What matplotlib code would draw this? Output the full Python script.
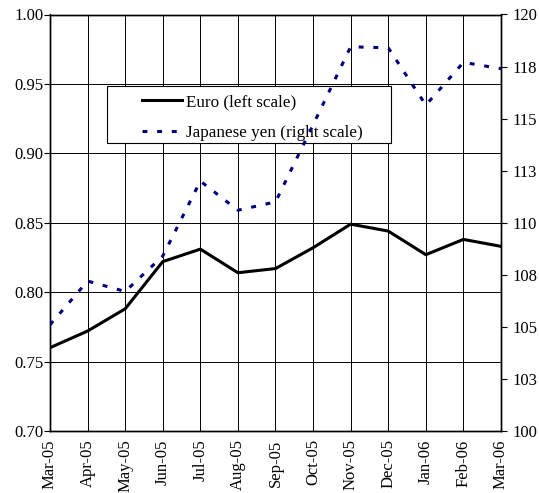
import matplotlib
matplotlib.use("Agg")
import matplotlib.pyplot as plt
import matplotlib.patches as patches
from matplotlib.ticker import FixedLocator, FixedFormatter

plt.rcParams['font.family'] = ['Liberation Serif', 'DejaVu Serif']

months = ['Mar-05', 'Apr-05', 'May-05', 'Jun-05', 'Jul-05', 'Aug-05', 'Sep-05',
          'Oct-05', 'Nov-05', 'Dec-05', 'Jan-06', 'Feb-06', 'Mar-06']
euro = [0.760, 0.772, 0.788, 0.822, 0.831, 0.814, 0.817,
        0.832, 0.849, 0.844, 0.827, 0.838, 0.833]
yen = [105.1, 107.2, 106.7, 108.4, 112.0, 110.6, 111.0,
       114.7, 118.45, 118.4, 115.65, 117.7, 117.4]
left_ticks = [0.70, 0.75, 0.80, 0.85, 0.90, 0.95, 1.00]
right_ticks = [100, 102.5, 105, 107.5, 110, 112.5, 115, 117.5, 120]
right_labels = ['100', '103', '105', '108', '110', '113', '115', '118', '120']

W, H = 539, 493
fig = plt.figure(figsize=(W / 100, H / 100), dpi=100)
fig.patch.set_facecolor('white')
ax = fig.add_axes([50 / W, 1 - 431 / H, 451 / W, 416.5 / H])
ax2 = ax.twinx()

x = list(range(len(months)))

ax.plot(x, euro, color='black', lw=2.2, label='Euro (left scale)', zorder=3)
l2, = ax2.plot(x, yen, color='#000080', lw=2.2, linestyle=(0, (1.6, 3.2)),
               dash_capstyle='butt', label='Japanese yen (right scale)', zorder=3)

ax.set_xlim(0, len(months) - 1)
ax.set_ylim(0.70, 1.00)
ax2.set_ylim(100, 120)

ax.set_yticks(left_ticks)
ax.set_yticklabels(['%.2f' % v for v in left_ticks])
ax2.yaxis.set_major_locator(FixedLocator(right_ticks))
ax2.yaxis.set_major_formatter(FixedFormatter(right_labels))

ax.set_xticks(x)
ax.set_xticklabels(months, rotation=90)

ax.grid(True, color='black', lw=0.7)
ax.set_axisbelow(True)

for a in (ax, ax2):
    a.tick_params(labelsize=12, length=4, width=0.8, direction='out', colors='black')
    for s in a.spines.values():
        s.set_linewidth(1.0)
        s.set_color('black')
ax.tick_params(axis='y', pad=0.5)
ax2.tick_params(axis='y', pad=4.5)
ax.tick_params(axis='x', length=0, pad=6)

# legend box (drawn under the yen line, over the grid)
box = patches.Rectangle((107 / W, 1 - 143 / H), 284 / W, 57 / H, transform=fig.transFigure,
                        facecolor='white', edgecolor='black', lw=0.8, zorder=4)
ax.add_patch(box)
box.set_clip_on(False)

h1, lab1 = ax.get_legend_handles_labels()
leg = ax.legend(h1 + [l2], lab1 + [l2.get_label()], loc='upper left',
                bbox_to_anchor=(142 / W, 1 - 94 / H), bbox_transform=fig.transFigure,
                borderaxespad=0, borderpad=0, fontsize=12.3, frameon=False,
                handlelength=2.35, handletextpad=0.2, labelspacing=0.85)
leg.set_zorder(5)

fig.savefig('out.png', dpi=100)
